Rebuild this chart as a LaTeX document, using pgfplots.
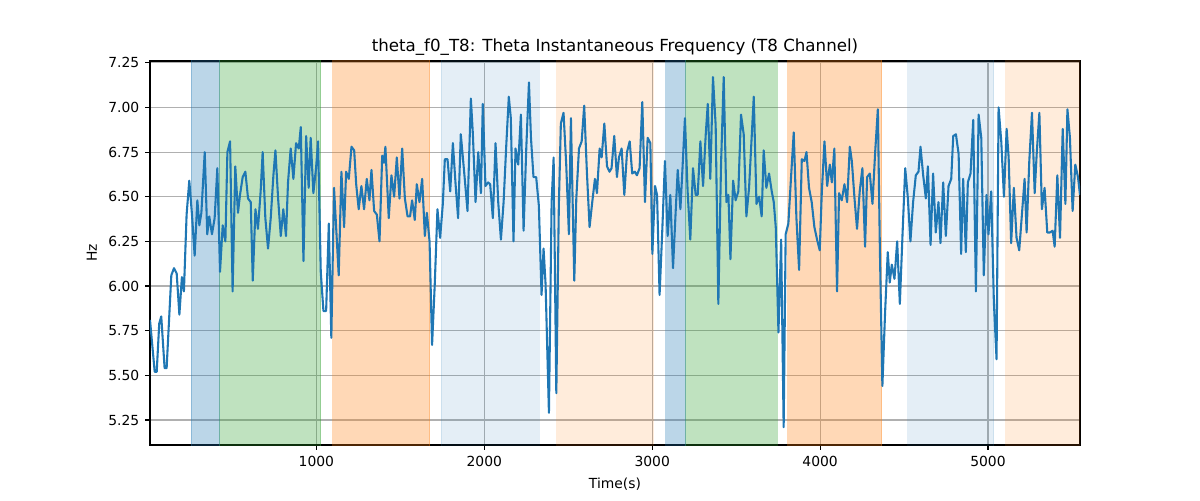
\documentclass[border=0pt]{standalone}
\usepackage{fontspec}
\setmainfont{DejaVu Sans}
\usepackage{pgfplots}
\pgfplotsset{compat=1.18}
\definecolor{tabblue}{HTML}{1F77B4}
\definecolor{taborange}{HTML}{FF7F0E}
\definecolor{tabgreen}{HTML}{2CA02C}
\definecolor{gridgray}{HTML}{B0B0B0}
\begin{document}
\begin{tikzpicture}
\begin{axis}[
 at={(0,0)}, anchor=south west,
 scale only axis, width=558pt, height=230.4pt,
 xmin=9, xmax=5548, ymin=5.11, ymax=7.26,
 xtick={1000,2000,3000,4000,5000},
 ytick={5.25,5.5,5.75,6,6.25,6.5,6.75,7,7.25},
 xtick pos=left, ytick pos=left,
 grid=major, major grid style={gridgray, line width=0.67pt},
 tick align=outside, major tick length=2.9pt,
 tick style={black, line width=0.67pt},
 axis line style={line width=0.67pt},
 tick label style={font=\fontsize{8.33}{10}\selectfont},
 /pgf/number format/assume math mode=true,
 yticklabel style={/pgf/number format/.cd, fixed, fixed zerofill, precision=2},
 xticklabel style={/pgf/number format/.cd, fixed, 1000 sep={}},
 scaled x ticks=false, scaled y ticks=false,
 title={theta\_f0\_T8: Theta Instantaneous Frequency (T8 Channel)},
 title style={font=\fontsize{10}{12}\selectfont, at={(0.5,1)}, anchor=south, yshift=-6pt},
 xlabel={Time(s)}, ylabel={Hz},
 label style={font=\fontsize{8.33}{10}\selectfont},
]
\addplot[draw=tabblue, draw opacity=0.3, fill=tabblue, fill opacity=0.3, line width=0.6pt] coordinates {(256,5) (424,5) (424,7.5) (256,7.5)} -- cycle;
\addplot[draw=tabgreen, draw opacity=0.3, fill=tabgreen, fill opacity=0.3, line width=0.6pt] coordinates {(424,5) (1026,5) (1026,7.5) (424,7.5)} -- cycle;
\addplot[draw=taborange, draw opacity=0.3, fill=taborange, fill opacity=0.3, line width=0.6pt] coordinates {(1097,5) (1674,5) (1674,7.5) (1097,7.5)} -- cycle;
\addplot[draw=tabblue, draw opacity=0.12, fill=tabblue, fill opacity=0.12, line width=0.6pt] coordinates {(1745,5) (2327,5) (2327,7.5) (1745,7.5)} -- cycle;
\addplot[draw=taborange, draw opacity=0.15, fill=taborange, fill opacity=0.15, line width=0.6pt] coordinates {(2431,5) (3007,5) (3007,7.5) (2431,7.5)} -- cycle;
\addplot[draw=tabblue, draw opacity=0.3, fill=tabblue, fill opacity=0.3, line width=0.6pt] coordinates {(3080,5) (3201,5) (3201,7.5) (3080,7.5)} -- cycle;
\addplot[draw=tabgreen, draw opacity=0.3, fill=tabgreen, fill opacity=0.3, line width=0.6pt] coordinates {(3201,5) (3746,5) (3746,7.5) (3201,7.5)} -- cycle;
\addplot[draw=taborange, draw opacity=0.3, fill=taborange, fill opacity=0.3, line width=0.6pt] coordinates {(3807,5) (4366,5) (4366,7.5) (3807,7.5)} -- cycle;
\addplot[draw=tabblue, draw opacity=0.12, fill=tabblue, fill opacity=0.12, line width=0.6pt] coordinates {(4522,5) (5033,5) (5033,7.5) (4522,7.5)} -- cycle;
\addplot[draw=taborange, draw opacity=0.15, fill=taborange, fill opacity=0.15, line width=0.6pt] coordinates {(5107,5) (5600,5) (5600,7.5) (5107,7.5)} -- cycle;
\addplot[tabblue, line width=1.25pt, line join=round] coordinates {
(9,5.81) (37,5.52) (49,5.52) (64,5.79) (76,5.83) (96,5.54) (108,5.54) (136,6.06) (152,6.10) (168,6.07) (184,5.84) (199,6.05) (211,5.97) (227,6.40) (243,6.59) (259,6.40) (275,6.17) (291,6.48) (303,6.34) (315,6.41) (335,6.75) (350,6.29) (362,6.39) (378,6.29) (394,6.38) (410,6.66) (426,6.08) (442,6.34) (458,6.25)
(470,6.75) (486,6.81) (501,5.97) (517,6.67) (533,6.41) (545,6.51) (561,6.61) (577,6.64) (593,6.49) (609,6.47) (621,6.03) (637,6.43) (652,6.32) (668,6.53) (680,6.75) (696,6.38) (712,6.21) (728,6.38) (744,6.62) (756,6.76) (772,6.49) (788,6.28) (803,6.43) (819,6.28) (831,6.58) (847,6.77) (863,6.60) (879,6.80) (895,6.77) (907,6.89) (923,6.14)
(939,6.84) (954,6.55) (966,6.83) (982,6.52) (998,6.66) (1010,6.81) (1026,6.08) (1042,5.86) (1058,5.86) (1074,6.35) (1089,5.71) (1105,6.55) (1133,6.06) (1149,6.64) (1165,6.33) (1177,6.64) (1193,6.60) (1209,6.78) (1225,6.76) (1237,6.57) (1252,6.43) (1268,6.56) (1284,6.43) (1300,6.60) (1316,6.48) (1328,6.65) (1344,6.42) (1360,6.40) (1376,6.25)
(1392,6.73) (1403,6.69) (1411,6.78) (1431,6.38) (1447,6.62) (1463,6.50) (1479,6.72) (1495,6.49) (1511,6.77) (1527,6.49) (1543,6.39) (1558,6.39) (1570,6.48) (1586,6.37) (1598,6.57) (1614,6.47) (1630,6.60) (1646,6.28) (1658,6.41) (1674,6.25) (1689,5.67) (1705,6.01) (1721,6.43) (1737,6.27) (1753,6.46) (1765,6.71) (1781,6.71) (1797,6.53) (1813,6.80) (1829,6.57) (1844,6.38) (1860,6.85)
(1880,6.64) (1900,6.42) (1920,7.05) (1932,6.85) (1948,6.47) (1964,6.75) (1980,6.52) (1991,7.02) (2007,6.56) (2023,6.58) (2035,6.57) (2051,6.38) (2067,6.80) (2083,6.47) (2099,6.26) (2115,6.47) (2131,6.79) (2146,7.06) (2158,6.94) (2174,6.25) (2186,6.77) (2202,6.68) (2218,6.96) (2234,6.31) (2250,6.77) (2266,7.14) (2278,6.83) (2293,6.61) (2309,6.61) (2325,6.45)
(2341,5.95) (2353,6.21) (2365,6.01) (2385,5.29) (2401,6.47) (2413,6.72) (2429,5.40) (2444,6.45) (2456,6.91) (2472,6.97) (2488,6.68) (2504,6.29) (2516,6.94) (2536,6.03) (2548,6.49) (2564,6.77) (2580,6.81) (2595,7.01) (2611,6.64) (2627,6.33) (2643,6.47) (2659,6.60) (2671,6.52) (2687,6.77) (2699,6.72) (2715,6.91) (2731,6.67) (2746,6.64) (2758,6.66) (2774,6.84)
(2790,6.61) (2802,6.72) (2818,6.77) (2834,6.51) (2850,6.75) (2866,6.81) (2881,6.63) (2897,6.64) (2909,6.62) (2925,6.66) (2941,7.03) (2957,6.47) (2973,6.83) (2989,6.80) (3001,6.18) (3017,6.56) (3029,6.51) (3044,5.95) (3060,6.31) (3076,6.70) (3092,6.28) (3108,6.51) (3124,6.10) (3140,6.42) (3152,6.65) (3168,6.43) (3180,6.65) (3195,6.94) (3211,6.53) (3227,6.26) (3243,6.66) (3259,6.51)
(3271,6.51) (3287,6.81) (3303,6.56) (3319,6.85) (3331,7.02) (3346,6.60) (3362,7.17) (3378,6.90) (3394,5.90) (3410,6.68) (3426,7.17) (3442,6.47) (3454,6.51) (3466,6.15) (3482,6.59) (3497,6.48) (3513,6.53) (3529,6.96) (3545,6.85) (3561,6.39) (3577,6.55) (3589,6.77) (3605,7.06) (3621,6.46) (3637,6.50) (3652,6.39) (3664,6.76) (3680,6.55) (3696,6.63) (3712,6.53) (3724,6.47)
(3736,6.33) (3752,5.74) (3768,6.26) (3783,5.21) (3795,6.29) (3811,6.35) (3827,6.61) (3843,6.86) (3859,6.38) (3875,6.09) (3891,6.71) (3907,6.70) (3919,6.75) (3934,6.55) (3950,6.47) (3966,6.33) (3982,6.26) (3998,6.20) (4010,6.52) (4026,6.81) (4042,6.56) (4058,6.68) (4070,6.58) (4085,6.77) (4101,5.97) (4113,6.52) (4129,6.48) (4145,6.57) (4161,6.47) (4177,6.78) (4189,6.70)
(4205,6.49) (4220,6.32) (4236,6.53) (4252,6.66) (4268,6.22) (4280,6.61) (4296,6.63) (4312,6.46) (4328,6.75) (4344,6.99) (4356,6.21) (4371,5.44) (4387,5.85) (4403,6.19) (4415,6.02) (4427,6.12) (4443,6.04) (4459,6.25) (4475,5.90) (4491,6.29) (4507,6.66) (4522,6.50) (4538,6.25) (4554,6.47) (4570,6.62) (4586,6.64) (4598,6.78) (4614,6.62) (4630,6.49) (4642,6.67)
(4658,6.23) (4673,6.63) (4689,6.30) (4705,6.47) (4717,6.24) (4733,6.58) (4749,6.28) (4765,6.56) (4781,6.60) (4793,6.84) (4809,6.85) (4825,6.74) (4840,6.18) (4852,6.60) (4868,6.19) (4880,6.58) (4896,6.63) (4912,6.93) (4928,5.97) (4944,6.96) (4960,6.83) (4975,6.06) (4991,6.51) (5003,6.29) (5019,6.53) (5035,5.91) (5051,5.59) (5063,7.00) (5079,6.81) (5095,6.50)
(5111,6.88) (5123,6.72) (5138,6.24) (5154,6.55) (5170,6.27) (5186,6.20) (5202,6.40) (5218,6.60) (5230,6.30) (5246,6.70) (5262,6.97) (5278,6.52) (5290,6.74) (5306,6.97) (5321,6.43) (5337,6.55) (5353,6.30) (5369,6.30) (5385,6.31) (5397,6.22) (5413,6.62) (5429,6.27) (5445,6.88) (5461,6.46) (5473,6.99) (5488,6.83) (5504,6.42) (5520,6.68) (5536,6.61) (5548,6.51)
};
\end{axis}
\pgfresetboundingbox
\path (-90pt,-33pt) rectangle (630pt,267pt);
\end{tikzpicture}
\end{document}
